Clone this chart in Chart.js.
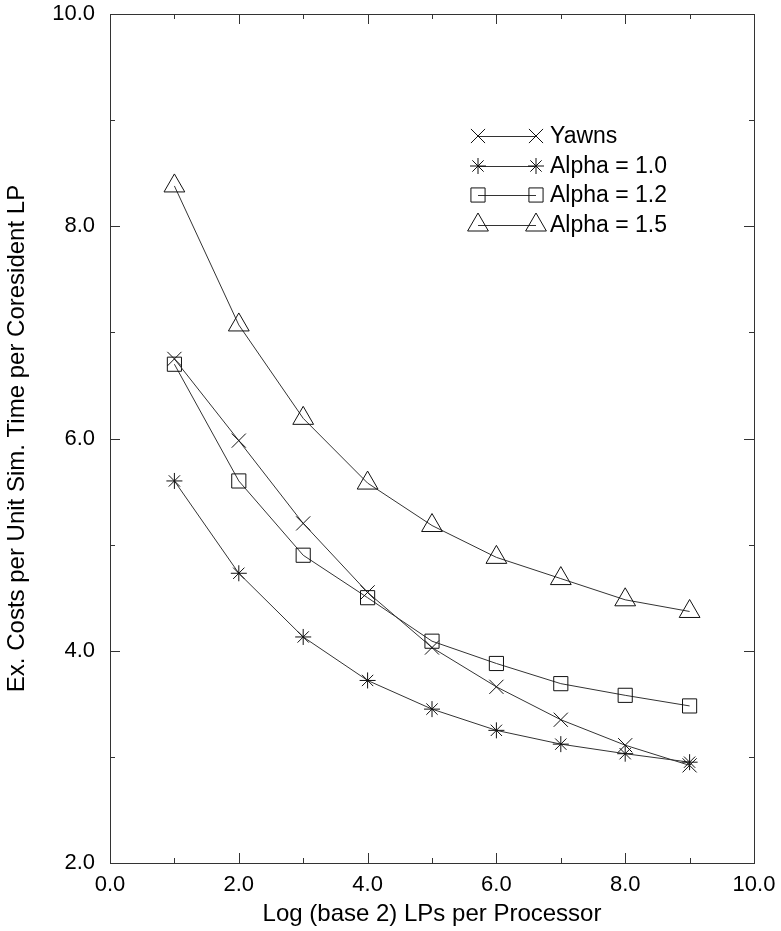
<!DOCTYPE html>
<html>
<head>
<meta charset="utf-8">
<script src="https://cdn.jsdelivr.net/npm/chart.js@4/dist/chart.umd.min.js"></script>
<style>
  html, body { margin: 0; padding: 0; background: #fff; }
  #wrap { width: 781px; height: 931px; }
</style>
</head>
<body>
<div id="wrap"><canvas id="c"></canvas></div>
<script>
/* ── Datos ── */
const lpLog   = [1, 2, 3, 4, 5, 6, 7, 8, 9];
const yawns   = [6.75, 5.98, 5.20, 4.55, 4.03, 3.66, 3.35, 3.11, 2.92];
const alpha10 = [5.60, 4.73, 4.13, 3.72, 3.45, 3.25, 3.12, 3.03, 2.95];
const alpha12 = [6.70, 5.60, 4.90, 4.50, 4.09, 3.88, 3.69, 3.58, 3.48];
const alpha15 = [8.38, 7.07, 6.19, 5.58, 5.18, 4.88, 4.68, 4.48, 4.37];

const seriesLabels = ['Yawns', 'Alpha = 1.0', 'Alpha = 1.2', 'Alpha = 1.5'];
const xMajor = [0, 2, 4, 6, 8, 10];
const xMinor = [1, 3, 5, 7, 9];
const yMajor = [2, 4, 6, 8, 10];
const yMinor = [3, 5, 7, 9];

const FONT = '"Liberation Sans", Arial, Helvetica, sans-serif';

function pts(ys) {
  return lpLog.map((x, i) => ({ x, y: ys[i] }));
}

function serie(label, ys, style, radius) {
  return {
    label,
    data: pts(ys),
    borderColor: '#333',
    borderWidth: 1,
    pointStyle: style,
    pointRadius: radius,
    pointHoverRadius: radius,
    pointBorderColor: '#111',
    pointBackgroundColor: 'rgba(0,0,0,0)',
    pointBorderWidth: 1,
    tension: 0,
    fill: false,
  };
}

/* ── Marco con marcas hacia dentro ── */
const framePlugin = {
  id: 'frame',
  afterDraw(chart) {
    const { ctx, chartArea: a, scales: { x, y } } = chart;
    ctx.save();
    ctx.strokeStyle = '#333';
    ctx.lineWidth = 1;
    ctx.strokeRect(Math.round(a.left) + 0.5, Math.round(a.top) + 0.5,
      Math.round(a.right - a.left), Math.round(a.bottom - a.top));
    ctx.beginPath();
    const tickX = (v, len) => {
      const px = Math.round(x.getPixelForValue(v)) + 0.5;
      ctx.moveTo(px, a.bottom); ctx.lineTo(px, a.bottom - len);
      ctx.moveTo(px, a.top); ctx.lineTo(px, a.top + len);
    };
    const tickY = (v, len) => {
      const py = Math.round(y.getPixelForValue(v)) + 0.5;
      ctx.moveTo(a.left, py); ctx.lineTo(a.left + len, py);
      ctx.moveTo(a.right, py); ctx.lineTo(a.right - len, py);
    };
    xMajor.forEach(v => tickX(v, 10));
    xMinor.forEach(v => tickX(v, 5));
    yMajor.forEach(v => tickY(v, 10));
    yMinor.forEach(v => tickY(v, 5));
    ctx.stroke();
    ctx.restore();
  }
};

/* ── Leyenda: línea con marcador en ambos extremos ── */
const legendPlugin = {
  id: 'lineLegend',
  afterDraw(chart) {
    const { ctx } = chart;
    const x0 = 478, x1 = 536, tx = 550, y0 = 136, dy = 29.5;
    chart.data.datasets.forEach((ds, i) => {
      const yy = Math.round(y0 + i * dy);
      ctx.save();
      ctx.strokeStyle = ds.borderColor;
      ctx.lineWidth = 1;
      ctx.beginPath();
      ctx.moveTo(x0, yy + 0.5); ctx.lineTo(x1, yy + 0.5);
      ctx.stroke();
      ctx.strokeStyle = ds.pointBorderColor;
      ctx.fillStyle = 'rgba(0,0,0,0)';
      const opts = { pointStyle: ds.pointStyle, radius: ds.pointRadius, rotation: 0, borderWidth: 1 };
      Chart.helpers.drawPoint(ctx, opts, x0, yy);
      Chart.helpers.drawPoint(ctx, opts, x1, yy);
      ctx.fillStyle = '#000';
      ctx.font = '23px ' + FONT;
      ctx.textBaseline = 'middle';
      ctx.textAlign = 'left';
      ctx.fillText(ds.label, tx, yy + 1);
      ctx.restore();
    });
  }
};

new Chart(document.getElementById('c'), {
  type: 'line',
  data: {
    datasets: [
      serie(seriesLabels[0], yawns, 'crossRot', 10),
      serie(seriesLabels[1], alpha10, 'star', 8),
      serie(seriesLabels[2], alpha12, 'rect', 10),
      serie(seriesLabels[3], alpha15, 'triangle', 12),
    ]
  },
  options: {
    responsive: true,
    maintainAspectRatio: false,
    animation: false,
    layout: { padding: { left: 0, top: 14, right: 27, bottom: 0 } },
    plugins: {
      legend: { display: false },
      tooltip: { enabled: false },
    },
    scales: {
      x: {
        type: 'linear',
        min: 0, max: 10,
        afterFit: s => { s.height = 68; s.paddingLeft = 0; s.paddingRight = 0; },
        grid: { display: false, drawTicks: false },
        border: { display: false },
        ticks: {
          stepSize: 2,
          padding: 9,
          color: '#000',
          font: { family: FONT, size: 22 },
          callback: v => v.toFixed(1),
        },
        title: {
          display: true,
          text: 'Log (base 2) LPs per Processor',
          color: '#000',
          font: { family: FONT, size: 24 },
          padding: { top: 0, bottom: 2 },
        },
      },
      y: {
        type: 'linear',
        min: 2, max: 10,
        afterFit: s => { s.width = 110; s.paddingTop = 0; s.paddingBottom = 0; },
        grid: { display: false, drawTicks: false },
        border: { display: false },
        ticks: {
          stepSize: 2,
          padding: 15,
          color: '#000',
          font: { family: FONT, size: 22 },
          callback: v => v.toFixed(1),
        },
        title: {
          display: true,
          text: 'Ex. Costs per Unit Sim. Time per Coresident LP',
          color: '#000',
          font: { family: FONT, size: 24 },
          padding: { top: 3, bottom: 0 },
        },
      },
    },
  },
  plugins: [framePlugin, legendPlugin],
});
</script>
</body>
</html>
